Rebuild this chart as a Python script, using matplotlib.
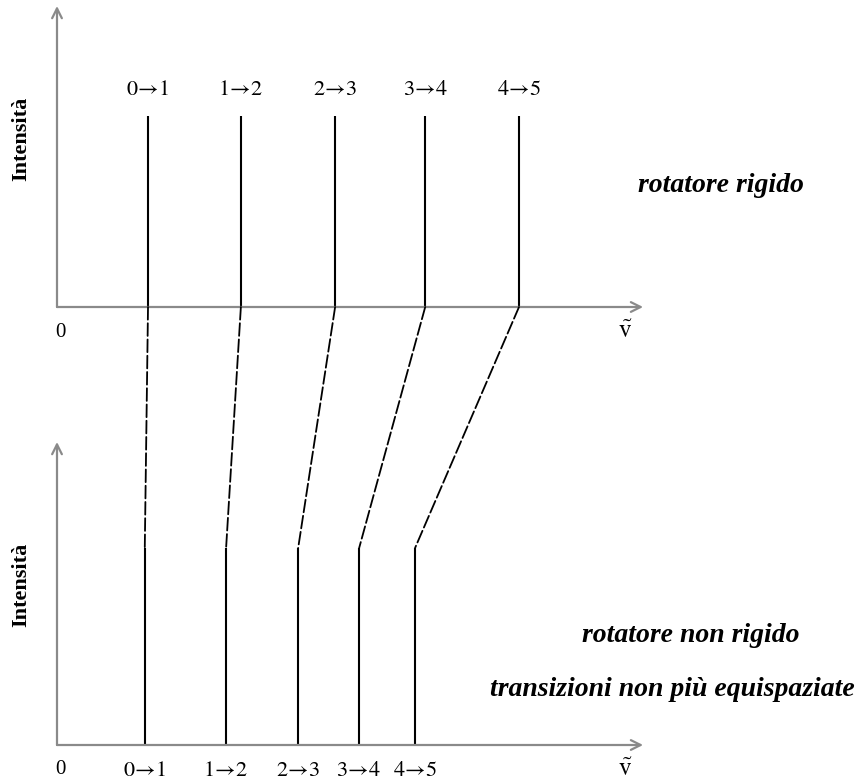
import matplotlib
matplotlib.use("Agg")
import matplotlib.pyplot as plt
from matplotlib.patches import ConnectionPatch

# Data (wavenumber in units of B)
transitions = ["0\u21921", "1\u21922", "2\u21923", "3\u21924", "4\u21925"]
rigid_pos = [1.97, 3.98, 6.02, 7.97, 10.0]
nonrigid_pos = [1.90, 3.66, 5.22, 6.54, 7.75]
rigid_int = [1, 1, 1, 1, 1]
nonrigid_int = [1, 1, 1, 1, 1]

plt.rcParams['mathtext.fontset'] = 'stix'
SERIF = ['Liberation Serif', 'DejaVu Serif']

W, H = 860, 782
fig = plt.figure(figsize=(W / 100, H / 100), dpi=100)

PX = 46.2  # pixels per unit


def tex_label(s):
    a, b = s.split("\u2192")
    return r'$\mathrm{%s}\!\rightarrow\!\mathrm{%s}$' % (a, b)


def make_ax(base_px, top_px, unit_px):
    ax = fig.add_axes([57 / W, (H - base_px) / H, (652 - 57) / W, (base_px - top_px) / H])
    ax.set_xlim(0, (652 - 57) / PX)
    ax.set_ylim(0, (base_px - top_px) / unit_px)
    ax.axis('off')
    ax.patch.set_alpha(0)
    arrow = dict(arrowstyle='->,head_length=0.7,head_width=0.35', color='#8a8a8a', lw=1.6,
                 shrinkA=0, shrinkB=0)
    ax.annotate('', xy=(0.985, 0), xytext=(0, 0), xycoords='axes fraction', arrowprops=arrow)
    ax.annotate('', xy=(0, 1.0), xytext=(0, 0), xycoords='axes fraction', arrowprops=arrow)
    ax.annotate('0', xy=(0, 0), xycoords='data', xytext=(3, -25), textcoords='offset pixels',
                ha='center', va='center', fontsize=15, family=SERIF)
    ax.annotate(r'$\tilde{\mathrm{v}}$', xy=(0.955, 0), xycoords='axes fraction', xytext=(0, -24),
                textcoords='offset pixels', ha='center', va='center', fontsize=18)
    return ax


ax1 = make_ax(307, 6, 191)
ax2 = make_ax(745, 442, 197)

ax1.vlines(rigid_pos, 0, rigid_int, color='black', lw=1.5)
ax2.vlines(nonrigid_pos, 0, nonrigid_int, color='black', lw=1.5)

for x, lab in zip(rigid_pos, transitions):
    ax1.text(x, 1.14, tex_label(lab), ha='center', va='center', fontsize=16)
for x, lab in zip(nonrigid_pos, transitions):
    ax2.annotate(tex_label(lab), xy=(x, 0), xytext=(0, -25), textcoords='offset pixels',
                 ha='center', va='center', fontsize=16)

for xr, xn, yn in zip(rigid_pos, nonrigid_pos, nonrigid_int):
    con = ConnectionPatch(xyA=(xr, 0), coordsA=ax1.transData,
                          xyB=(xn, yn), coordsB=ax2.transData,
                          color='black', lw=1.3, linestyle=(0, (7, 2)))
    fig.add_artist(con)

# y labels
for yc in (139, 585):
    fig.text(21 / W, 1 - yc / H, 'Intensità', rotation=90, ha='center', va='center',
             fontsize=16, fontweight='bold', family=SERIF)

fig.text(638 / W, 1 - 185 / H, 'rotatore rigido', ha='left', va='center', fontsize=20,
         style='italic', fontweight='bold', family=SERIF)
fig.text(582 / W, 1 - 635 / H, 'rotatore non rigido', ha='left', va='center', fontsize=20,
         style='italic', fontweight='bold', family=SERIF)
fig.text(490 / W, 1 - 690 / H, 'transizioni non più equispaziate', ha='left', va='center',
         fontsize=20, style='italic', fontweight='bold', family=SERIF)

fig.savefig('out.png', dpi=100)
